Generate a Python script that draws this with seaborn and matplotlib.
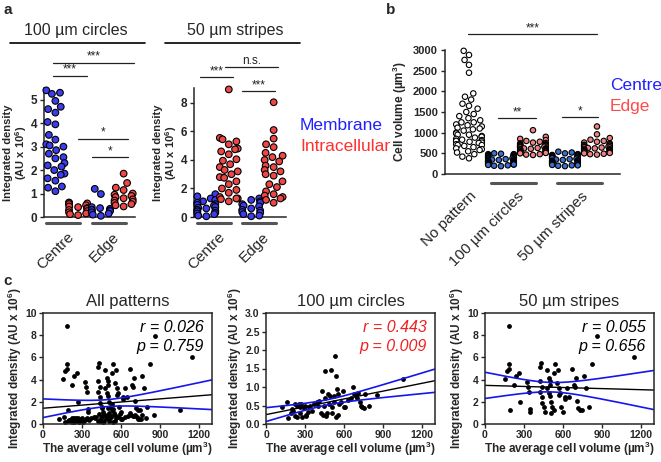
import numpy as np
import pandas as pd
import seaborn as sns
import matplotlib.pyplot as plt
from matplotlib.lines import Line2D

sns.set_style("ticks")
plt.rcParams['font.family'] = ['Liberation Sans', 'DejaVu Sans']
plt.rcParams['mathtext.fontset'] = 'custom'
plt.rcParams['mathtext.rm'] = 'Liberation Sans'
plt.rcParams['mathtext.bf'] = 'Liberation Sans:bold'

# ---- panel a: integrated density (AU x 10^6), membrane / intracellular
circ_centre_mem = [5.4, 5.3, 5.25, 4.95, 4.7, 4.6, 4.45, 4.05, 3.95, 3.5, 3.3, 3.1, 3.05, 3.0, 2.85,
                   2.7, 2.55, 2.5, 2.3, 2.2, 2.15, 2.0, 1.85, 1.8, 1.65, 1.55, 1.3, 1.25, 1.1]
circ_centre_int = [0.62, 0.6, 0.58, 0.55, 0.5, 0.45, 0.42, 0.38, 0.35, 0.3, 0.25, 0.2, 0.15, 0.12, 0.08]
circ_edge_mem = [1.2, 0.98, 0.42, 0.38, 0.35, 0.3, 0.3, 0.28, 0.25, 0.2, 0.15, 0.1, 0.05]
circ_edge_int = [1.85, 1.45, 1.25, 1.15, 1.0, 0.95, 0.9, 0.85, 0.8, 0.75, 0.7, 0.65, 0.6, 0.55, 0.5, 0.45]

str_centre_mem = [1.6, 1.45, 1.3, 1.2, 1.1, 1.0, 0.9, 0.85, 0.8, 0.7, 0.65, 0.6, 0.5, 0.45, 0.4, 0.3,
                  0.25, 0.2, 0.1, 0.05]
str_centre_int = [8.95, 5.55, 5.45, 5.3, 5.1, 4.8, 4.75, 4.6, 4.4, 4.05, 3.95, 3.7, 3.5, 3.3, 3.2, 3.0,
                  2.8, 2.75, 2.5, 2.3, 2.0, 1.9, 1.7, 1.4, 1.3, 1.3, 1.25, 1.1]
str_edge_mem = [1.3, 1.2, 1.1, 1.0, 0.9, 0.8, 0.75, 0.6, 0.5, 0.45, 0.35, 0.3, 0.2, 0.1, 0.05]
str_edge_int = [8.05, 6.1, 5.5, 5.1, 4.9, 4.5, 4.3, 4.2, 4.0, 3.9, 3.6, 3.5, 3.3, 3.2, 3.0, 2.9, 2.5,
                2.3, 2.1, 1.8, 1.6, 1.5, 1.4, 1.3, 1.2, 1.0]

a_order = ['c_mem', 'c_int', 'e_mem', 'e_int']
a_colors = {'c_mem': '#3c3cf0', 'c_int': '#f04646', 'e_mem': '#3c3cf0', 'e_int': '#f04646'}

# ---- panel b: cell volume (um^3)
no_pattern = [2980, 2880, 2760, 2640, 2450, 1950, 1870, 1800, 1700, 1650, 1580, 1500, 1450, 1400, 1350,
              1300, 1250, 1250, 1200, 1180, 1150, 1120, 1100, 1080, 1050, 1000, 980, 950, 950, 920, 900,
              880, 850, 830, 820, 800, 800, 800, 780, 760, 750, 720, 700, 700, 680, 650, 620, 600, 580,
              550, 520, 480, 420, 380]
circ_centre_vol = [500, 490, 480, 480, 470, 460, 450, 450, 440, 430, 420, 420, 410, 400, 400, 390, 390,
                   380, 370, 360, 360, 350, 350, 340, 330, 330, 320, 310, 300, 300, 300, 290, 280, 270,
                   260, 260, 250, 250, 240, 230, 230, 220, 210, 200, 190]
circ_edge_vol = [1060, 900, 850, 820, 800, 780, 760, 750, 740, 720, 720, 700, 700, 690, 680, 680, 670,
                 660, 650, 650, 640, 630, 620, 620, 610, 600, 600, 590, 580, 570, 560, 560, 550, 540,
                 530, 520, 520, 510, 500, 480, 470, 460]
str_centre_vol = [540, 520, 500, 480, 470, 460, 450, 450, 440, 430, 420, 410, 400, 400, 390, 380, 380,
                  370, 360, 350, 340, 330, 320, 320, 310, 300, 290, 280, 270, 260, 260, 250, 240, 230,
                  220, 210, 210, 200, 190]
str_edge_vol = [1150, 960, 870, 830, 800, 780, 760, 740, 720, 700, 700, 690, 680, 670, 660, 650, 640,
                640, 630, 620, 610, 600, 590, 580, 580, 570, 560, 550, 540, 540, 530, 520, 510, 500,
                490, 480, 470]
b_order = ['none', 'circ_c', 'circ_e', 'str_c', 'str_e']
b_colors = {'none': 'white', 'circ_c': '#3a6fd2', 'circ_e': '#f08282', 'str_c': '#3a6fd2', 'str_e': '#f08282'}
b_labels = ['No pattern', '100 µm circles', '50 µm stripes']

# ---- panel c: integrated density vs average cell volume
circ_x = [120, 165, 170, 190, 200, 210, 220, 225, 235, 240, 250, 260, 265, 270, 280, 290, 300, 305, 310,
          320, 330, 340, 350, 370, 390, 400, 410, 420, 430, 440, 445, 450, 455, 460, 470, 480, 485, 490,
          500, 505, 510, 520, 525, 530, 535, 540, 545, 550, 555, 560, 580, 590, 600, 610, 630, 650, 670,
          680, 690, 700, 710, 720, 730, 740, 750, 760, 790, 850, 1050]
circ_y = [0.47, 0.6, 0.17, 0.3, 0.4, 0.35, 0.55, 0.22, 0.5, 0.18, 0.55, 0.45, 0.3, 0.55, 0.2, 0.42, 0.5,
          0.25, 0.22, 0.32, 0.45, 0.5, 0.35, 0.55, 0.6, 0.5, 0.62, 0.3, 0.88, 0.25, 0.5, 1.44, 0.7, 0.22,
          0.3, 0.8, 0.55, 0.75, 1.46, 0.45, 0.3, 0.75, 0.6, 1.84, 0.2, 1.31, 0.95, 0.25, 0.8, 0.55, 0.6,
          0.88, 0.45, 0.45, 0.65, 0.7, 1.0, 0.8, 0.75, 0.7, 0.85, 0.6, 0.48, 0.45, 0.42, 0.8, 0.5, 0.78, 1.22]
str_x = [188, 865, 1148, 181, 181, 168, 155, 240, 258, 220, 193, 266, 323, 328, 335, 343, 348, 426, 431,
         421, 439, 426, 441, 441, 452, 465, 480, 490, 498, 503, 475, 490, 503, 508, 516, 529, 511, 542,
         560, 529, 555, 568, 575, 581, 601, 619, 612, 645, 671, 684, 690, 697, 710, 715, 730, 743, 761,
         774, 800, 826, 568, 632]
str_y = [8.86, 7.95, 6.02, 5.42, 4.94, 4.73, 4.04, 4.34, 4.58, 3.52, 1.27, 2.02, 3.8, 3.37, 2.92, 1.33,
         1.11, 5.18, 5.54, 3.83, 3.37, 2.92, 2.47, 1.87, 1.57, 1.11, 4.88, 4.13, 3.83, 3.52, 3.22, 2.83,
         2.53, 2.02, 1.57, 1.27, 1.02, 5.39, 4.88, 4.58, 3.67, 3.22, 2.77, 1.51, 1.11, 2.47, 2.23, 2.41,
         4.94, 3.52, 3.37, 4.13, 2.11, 1.42, 1.27, 1.27, 4.34, 3.22, 1.57, 5.42, 2.62, 3.22]
c_titles = ['All patterns', '100 µm circles', '50 µm stripes']
c_stats = [('r = 0.026', 'p = 0.759'), ('r = 0.443', 'p = 0.009'), ('r = 0.055', 'p = 0.656')]
c_stat_colors = ['black', '#f02020', 'black']


def sig(ax, x0, x1, y, txt, fs=8.5):
    ax.plot([x0, x1], [y, y], color='#222222', lw=0.9, clip_on=False)
    ax.text((x0 + x1) / 2, y, txt, ha='center', va='bottom', fontsize=fs, color='#222222', clip_on=False)


def group_bar(ax, x0, x1, y=-0.045):
    ax.plot([x0, x1], [y, y], color='#555555', lw=2.2, clip_on=False,
            transform=ax.get_xaxis_transform())


def swarm(ax, groups, order, colors, size):
    df = pd.DataFrame({'grp': np.repeat(order, [len(g) for g in groups]),
                       'val': np.concatenate(groups)})
    sns.swarmplot(data=df, x='grp', y='val', hue='grp', order=order, hue_order=order,
                  palette=colors, size=size, edgecolor='black', linewidth=0.8, legend=False, ax=ax)
    for coll in ax.collections:
        coll.set_clip_on(False)
    sns.despine(ax=ax)
    ax.set_xlabel('')
    ax.tick_params(axis='y', labelsize=8.5, width=1, length=3, pad=2)
    ax.tick_params(axis='x', length=0)
    for lab in ax.get_yticklabels():
        lab.set_fontweight('bold')
    for sp in ax.spines.values():
        sp.set_linewidth(1.1)


fig = plt.figure(figsize=(6.61, 4.62), dpi=100)

# panel a
ax1 = fig.add_axes([44 / 661, 1 - 217 / 462, 91 / 661, 129 / 462])
swarm(ax1, [circ_centre_mem, circ_centre_int, circ_edge_mem, circ_edge_int], a_order, a_colors, 4.8)
ax1.set_ylim(0, 5.5)
ax1.set_xlim(-0.5, 3.5)
ax1.set_yticks(range(6))
ax2 = fig.add_axes([194 / 661, 1 - 217 / 462, 92 / 661, 129 / 462])
swarm(ax2, [str_centre_mem, str_centre_int, str_edge_mem, str_edge_int], a_order, a_colors, 4.8)
ax2.set_ylim(0, 9.05)
ax2.set_xlim(-0.55, 3.55)
ax2.set_yticks([0, 2, 4, 6, 8])

for ax in (ax1, ax2):
    ax.set_ylabel('Integrated density\n(AU x 10$^{\\mathbf{6}}$)', fontsize=8, fontweight='bold',
                  labelpad=1, linespacing=1.0)
    ax.set_xticks([0.5, 2.5])
    ax.set_xticklabels(['Centre', 'Edge'], rotation=45, ha='right', rotation_mode='anchor',
                       fontsize=11)
    ax.tick_params(axis='x', pad=9)
    group_bar(ax, -0.4, 1.1)
    group_bar(ax, 1.6, 3.1)

sig(ax1, -0.1, 3.45, 6.58, '***')
sig(ax1, -0.1, 1.4, 6.03, '***')
sig(ax1, 1.0, 3.2, 3.33, '*')
sig(ax1, 1.6, 3.2, 2.56, '*')
sig(ax2, -0.3, 1.2, 9.8, '***')
sig(ax2, 0.85, 3.2, 10.5, 'n.s.')
sig(ax2, 1.6, 3.05, 8.84, '***')

fig.text(76 / 661, 1 - 31 / 462, '100 µm circles', ha='center', va='center', fontsize=11.5)
fig.text(235 / 661, 1 - 31 / 462, '50 µm stripes', ha='center', va='center', fontsize=11.5)
fig.add_artist(Line2D([10 / 661, 145 / 661], [1 - 43 / 462] * 2, color='black', lw=1.2))
fig.add_artist(Line2D([165 / 661, 300 / 661], [1 - 43 / 462] * 2, color='black', lw=1.2))
fig.text(300 / 661, 1 - 125 / 462, 'Membrane', color='#2020ff', fontsize=12.5, va='center')
fig.text(300 / 661, 1 - 146 / 462, 'Intracellular', color='#ff3030', fontsize=12.5, va='center')

# panel b
axb = fig.add_axes([445 / 661, 1 - 174 / 462, 175 / 661, 124 / 462])
swarm(axb, [no_pattern, circ_centre_vol, circ_edge_vol, str_centre_vol, str_edge_vol], b_order,
      b_colors, 3.9)
axb.set_ylim(0, 3000)
axb.set_xlim(-0.75, 4.72)
axb.set_yticks(range(0, 3001, 500))
axb.tick_params(axis='y', labelsize=8)
axb.set_ylabel('Cell volume (µm$^{\\mathbf{3}}$)', fontsize=8.5, fontweight='bold', labelpad=3)
axb.set_xticks([0, 1.5, 3.5])
axb.set_xticklabels(b_labels, rotation=45, ha='right', rotation_mode='anchor', fontsize=11)
axb.tick_params(axis='x', pad=11)
group_bar(axb, 0.7, 2.1, -0.075)
group_bar(axb, 2.75, 4.15, -0.075)
sig(axb, -0.03, 4.0, 3387, '***')
sig(axb, 0.9, 2.1, 1355, '**')
sig(axb, 2.9, 4.03, 1380, '*')
fig.text(610 / 661, 1 - 86 / 462, 'Centre', color='#2020ff', fontsize=12.5, va='center')
fig.text(610 / 661, 1 - 107 / 462, 'Edge', color='#ff4a4a', fontsize=12.5, va='center')

# panel c
all_x = circ_x + str_x
all_y = circ_y + str_y
c_data = [(all_x, all_y, 10), (circ_x, circ_y, 3), (str_x, str_y, 10)]
c_lefts = [43, 266, 485]
xs = np.linspace(0, 1300, 200)
for i, ((cx, cy, ymax), left) in enumerate(zip(c_data, c_lefts)):
    ax = fig.add_axes([left / 661, 1 - 424 / 462, 169 / 661, 111 / 462])
    sns.scatterplot(x=cx, y=cy, color='black', s=12, linewidth=0, ax=ax)
    x = np.asarray(cx, float)
    y = np.asarray(cy, float)
    slope, icpt = np.polyfit(x, y, 1)
    n = len(x)
    resid = y - (slope * x + icpt)
    s = np.sqrt(np.sum(resid ** 2) / (n - 2))
    se = s * np.sqrt(1 / n + (xs - x.mean()) ** 2 / np.sum((x - x.mean()) ** 2))
    fit = slope * xs + icpt
    ax.plot(xs, fit, color='black', lw=1)
    ax.plot(xs, fit + 1.99 * se, color='#1515ee', lw=1.2)
    ax.plot(xs, fit - 1.99 * se, color='#1515ee', lw=1.2)
    ax.set_xlim(0, 1300)
    ax.set_ylim(0, ymax)
    ax.set_xticks(range(0, 1201, 300))
    if ymax == 3:
        ax.set_yticks(np.arange(0, 3.01, 0.5))
        ax.yaxis.set_major_formatter('{x:.1f}')
    else:
        ax.set_yticks(range(0, 11, 2))
    ax.tick_params(labelsize=7.5, width=1, length=3, pad=1.5)
    for lab in ax.get_xticklabels() + ax.get_yticklabels():
        lab.set_fontweight('bold')
    for sp in ax.spines.values():
        sp.set_linewidth(1.1)
    ax.set_xlabel('The average cell volume (µm$^{\\mathbf{3}}$)', fontsize=8.5, fontweight='bold',
                  labelpad=0)
    ax.set_ylabel('Integrated density (AU x 10$^{\\mathbf{6}}$)', fontsize=8.5, fontweight='bold',
                  labelpad=1)
    ax.set_title(c_titles[i], fontsize=12, pad=5)
    r_txt, p_txt = c_stats[i]
    ax.text(0.95, 0.87, r_txt, transform=ax.transAxes, ha='right', va='center', fontsize=11.5,
            style='italic', color=c_stat_colors[i])
    ax.text(0.95, 0.7, p_txt, transform=ax.transAxes, ha='right', va='center', fontsize=11.5,
            style='italic', color=c_stat_colors[i])

fig.text(3 / 661, 1 - 10 / 462, 'a', fontsize=11, fontweight='bold', va='center')
fig.text(386 / 661, 1 - 10 / 462, 'b', fontsize=11, fontweight='bold', va='center')
fig.text(3 / 661, 1 - 281 / 462, 'c', fontsize=11, fontweight='bold', va='center')

fig.savefig('out.png', dpi=100)
